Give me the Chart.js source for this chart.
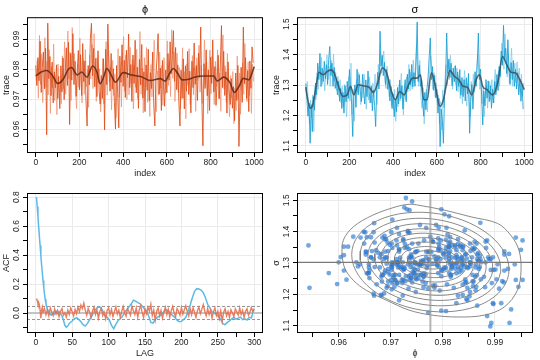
<!DOCTYPE html>
<html>
<head>
<meta charset="utf-8">
<script src="https://cdn.jsdelivr.net/npm/chart.js@4.4.1/dist/chart.umd.min.js"></script>
<style>
  body { margin: 0; background: #fff; }
  #wrap { position: relative; width: 540px; height: 360px; }
  canvas { position: absolute; }
</style>
</head>
<body>
<div id="wrap">
  <canvas id="phi-trace" width="270" height="180" style="left:0;top:0"></canvas>
  <canvas id="sigma-trace" width="270" height="180" style="left:270px;top:0"></canvas>
  <canvas id="acf-chart" width="270" height="180" style="left:0;top:180px"></canvas>
  <canvas id="pair-chart" width="270" height="180" style="left:270px;top:180px"></canvas>
</div>
<script>
// draws of phi, two chains (every 5th iteration, chain B offset by 2)
const phiChainA = [
  0.9812,0.9745,0.9838,0.9761,0.9893,0.9722,0.9806,0.9857,0.9734,0.9869,
  0.9581,0.9953,0.9768,0.9842,0.9711,0.9823,0.9687,0.9791,0.9738,0.9814,
  0.9702,0.9776,0.9668,0.9811,0.9724,0.9837,0.9698,0.9792,0.9871,0.9745,
  0.9889,0.9615,0.9852,0.9763,0.9918,0.9748,0.9826,0.9709,0.9795,0.9862,
  0.9731,0.9848,0.9712,0.9885,0.9758,0.9827,0.9694,0.9610,0.9812,0.9747,
  0.9901,0.9953,0.9778,0.9869,0.9741,0.9836,0.9708,0.9861,0.9725,0.9683,
  0.9779,0.9702,0.9834,0.9597,0.9866,0.9748,0.9950,0.9817,0.9726,0.9852,
  0.9733,0.9801,0.9689,0.9600,0.9812,0.9718,0.9604,0.9843,0.9756,0.9881,
  0.9742,0.9829,0.9705,0.9863,0.9771,0.9917,0.9738,0.9815,0.9692,0.9847,
  0.9752,0.9896,0.9721,0.9806,0.9669,0.9833,0.9747,0.9882,0.9703,0.9791,
  0.9658,0.9814,0.9729,0.9866,0.9694,0.9788,0.9735,0.9857,0.9681,0.9610,
  0.9772,0.9841,0.9918,0.9716,0.9803,0.9662,0.9829,0.9744,0.9676,0.9797,
  0.9721,0.9852,0.9763,0.9891,0.9784,0.9845,0.9928,0.9759,0.9872,0.9731,
  0.9814,0.9688,0.9610,0.9796,0.9702,0.9834,0.9667,0.9811,0.9726,0.9859,
  0.9715,0.9793,0.9654,0.9826,0.9738,0.9887,0.9749,0.9812,0.9695,0.9853,
  0.9772,0.9940,0.9707,0.9544,0.9818,0.9735,0.9864,0.9711,0.9797,0.9662,
  0.9839,0.9752,0.9897,0.9724,0.9808,0.9679,0.9763,0.9846,0.9701,0.9817,
  0.9945,0.9738,0.9859,0.9712,0.9791,0.9653,0.9824,0.9727,0.9682,0.9768,
  0.9669,0.9741,0.9628,0.9787,0.9695,0.9812,0.9542,0.9723,0.9806,0.9689,
  0.9940,0.9751,0.9838,0.9702,0.9795,0.9658,0.9827,0.9736,0.9874,0.9821
];
const phiChainB = [
  0.9764,0.9829,0.9703,0.9912,0.9748,0.9851,0.9688,0.9797,0.9905,0.9739,
  0.9826,0.9714,0.9865,0.9652,0.9809,0.9737,0.9883,0.9695,0.9772,0.9648,
  0.9817,0.9702,0.9758,0.9684,0.9844,0.9733,0.9891,0.9716,0.9802,0.9927,
  0.9767,0.9856,0.9695,0.9938,0.9781,0.9852,0.9729,0.9668,0.9816,0.9739,
  0.9903,0.9764,0.9687,0.9829,0.9716,0.9865,0.9741,0.9798,0.9672,0.9847,
  0.9767,0.9882,0.9735,0.9918,0.9806,0.9692,0.9839,0.9753,0.9801,0.9657,
  0.9728,0.9836,0.9683,0.9774,0.9892,0.9713,0.9861,0.9758,0.9807,0.9664,
  0.9829,0.9712,0.9784,0.9637,0.9753,0.9868,0.9706,0.9791,0.9673,0.9836,
  0.9908,0.9726,0.9847,0.9698,0.9785,0.9714,0.9873,0.9751,0.9832,0.9667,
  0.9814,0.9739,0.9866,0.9702,0.9781,0.9925,0.9716,0.9803,0.9654,0.9838,
  0.9741,0.9872,0.9689,0.9763,0.9642,0.9815,0.9707,0.9789,0.9896,0.9724,
  0.9658,0.9794,0.9713,0.9857,0.9736,0.9812,0.9679,0.9838,0.9716,0.9773,
  0.9894,0.9745,0.9826,0.9708,0.9931,0.9769,0.9858,0.9692,0.9781,0.9853,
  0.9724,0.9806,0.9667,0.9748,0.9871,0.9703,0.9792,0.9634,0.9817,0.9746,
  0.9868,0.9682,0.9773,0.9845,0.9714,0.9806,0.9659,0.9838,0.9762,0.9879,
  0.9723,0.9812,0.9685,0.9768,0.9897,0.9746,0.9824,0.9651,0.9792,0.9863,
  0.9718,0.9843,0.9756,0.9682,0.9826,0.9741,0.9864,0.9702,0.9787,0.9659,
  0.9836,0.9914,0.9733,0.9811,0.9689,0.9852,0.9727,0.9641,0.9778,0.9703,
  0.9792,0.9618,0.9736,0.9662,0.9843,0.9701,0.9787,0.9649,0.9756,0.9821,
  0.9716,0.9885,0.9763,0.9691,0.9824,0.9712,0.9797,0.9652,0.9816,0.9758
];
const sigmaChainA = [
  1.305,1.262,1.198,1.241,1.109,1.236,1.147,1.262,1.218,1.307,
  1.268,1.372,1.318,1.404,1.295,1.356,1.312,1.378,1.321,1.367,
  1.302,1.384,1.427,1.331,1.372,1.296,1.358,1.289,1.323,1.268,
  1.312,1.247,1.289,1.223,1.276,1.208,1.298,1.245,1.312,1.256,
  1.351,1.284,1.236,1.131,1.262,1.301,1.227,1.352,1.268,1.334,
  1.279,1.246,1.335,1.281,1.238,1.317,1.262,1.346,1.278,1.241,
  1.298,1.216,1.284,1.233,1.164,1.298,1.342,1.287,1.477,1.362,
  1.398,1.331,1.375,1.302,1.352,1.286,1.319,1.248,1.296,1.223,
  1.271,1.196,1.254,1.213,1.292,1.238,1.317,1.256,1.298,1.221,
  1.279,1.318,1.245,1.336,1.287,1.352,1.301,1.368,1.294,1.341,
  1.296,1.382,1.507,1.312,1.365,1.296,1.317,1.241,1.198,1.276,
  1.219,1.288,1.327,1.392,1.455,1.318,1.361,1.283,1.332,1.258,
  1.286,1.208,1.256,1.098,1.221,1.185,1.109,1.264,1.312,1.471,
  1.338,1.386,1.325,1.372,1.298,1.356,1.311,1.364,1.282,1.343,
  1.296,1.351,1.267,1.325,1.262,1.318,1.248,1.324,1.271,1.338,
  1.142,1.246,1.302,1.221,1.289,1.344,1.296,1.372,1.471,1.318,
  1.352,1.262,1.169,1.281,1.232,1.318,1.257,1.314,1.246,1.298,
  1.224,1.287,1.241,1.312,1.268,1.335,1.282,1.361,1.328,1.412,
  1.365,1.496,1.384,1.421,1.338,1.449,1.356,1.302,1.374,1.318,
  1.381,1.296,1.352,1.287,1.341,1.268,1.319,1.247,1.302,1.221
];
const sigmaChainB = [
  1.268,1.312,1.236,1.172,1.251,1.194,1.268,1.148,1.296,1.252,
  1.341,1.286,1.362,1.327,1.391,1.302,1.348,1.281,1.336,1.399,
  1.318,1.362,1.296,1.381,1.328,1.402,1.312,1.344,1.281,1.329,
  1.263,1.318,1.241,1.296,1.228,1.302,1.258,1.196,1.281,1.327,
  1.248,1.372,1.203,1.286,1.181,1.261,1.318,1.276,1.341,1.287,
  1.236,1.302,1.258,1.337,1.284,1.221,1.296,1.251,1.327,1.268,
  1.242,1.307,1.262,1.336,1.278,1.236,1.368,1.301,1.412,1.338,
  1.376,1.412,1.321,1.289,1.362,1.307,1.262,1.318,1.232,1.276,
  1.218,1.286,1.181,1.263,1.229,1.302,1.248,1.338,1.271,1.202,
  1.296,1.252,1.327,1.278,1.368,1.281,1.342,1.286,1.382,1.307,
  1.362,1.428,1.336,1.296,1.381,1.262,1.224,1.292,1.172,1.246,
  1.286,1.212,1.302,1.347,1.396,1.352,1.286,1.341,1.262,1.307,
  1.236,1.268,1.172,1.246,1.152,1.284,1.226,1.318,1.367,1.298,
  1.376,1.318,1.398,1.336,1.287,1.348,1.362,1.302,1.356,1.278,
  1.332,1.256,1.312,1.238,1.302,1.348,1.276,1.231,1.307,1.256,
  1.196,1.312,1.262,1.336,1.278,1.302,1.352,1.398,1.346,1.286,
  1.317,1.238,1.292,1.196,1.267,1.298,1.224,1.286,1.312,1.252,
  1.318,1.242,1.296,1.351,1.276,1.302,1.348,1.296,1.372,1.438,
  1.412,1.352,1.468,1.382,1.327,1.398,1.306,1.362,1.421,1.296,
  1.336,1.372,1.308,1.376,1.316,1.356,1.278,1.336,1.262,1.307
];
const phiIndexA = phiChainA.map((v, i) => i * 5);
const phiIndexB = phiChainB.map((v, i) => i * 5 + 2);

// running smooth drawn over each trace
const phiSmoothIdx = [0,25,50,75,100,125,150,165,175,190,210,235,260,280,295,310,325,345,365,400,
  440,480,525,570,592,610,630,650,670,700,725,770,815,830,860,890,908,930,950,975,1000];
const phiSmooth = [0.9777,0.9790,0.9795,0.9780,0.9752,0.9765,0.9800,0.9805,0.9795,0.9780,
  0.9790,0.9773,0.9810,0.9790,0.9751,0.9772,0.9802,0.9780,0.9756,0.9788,
  0.9780,0.9775,0.9762,0.9768,0.9760,0.9782,0.9802,0.9785,0.9764,0.9766,
  0.9773,0.9777,0.9777,0.9760,0.9773,0.9753,0.9722,0.9742,0.9769,0.9764,0.9808];
const sigmaSmoothIdx = [0,10,20,30,45,60,80,100,115,130,150,170,190,205,220,240,260,290,310,330,
  350,370,390,410,430,450,470,490,510,525,540,555,575,590,615,630,645,660,680,700,
  720,740,760,780,795,810,830,855,880,900,920,940,960,980,1000];
const sigmaSmooth = [1.293,1.250,1.224,1.230,1.285,1.342,1.334,1.345,1.350,1.340,
  1.296,1.263,1.268,1.296,1.268,1.301,1.298,1.293,1.276,1.309,
  1.356,1.340,1.285,1.252,1.279,1.268,1.301,1.323,1.323,1.334,
  1.252,1.252,1.340,1.307,1.230,1.252,1.307,1.348,1.329,1.318,
  1.296,1.293,1.268,1.318,1.334,1.296,1.285,1.268,1.312,1.394,
  1.367,1.342,1.340,1.318,1.285];

// autocorrelation
const sigmaAcfLag = [1,2,3,4,5,6,7,8,9,10,11,12,13,14,15,16,18,20,22,24,
  26,28,30,32,34,36,38,40,42,44,46,48,50,53,56,59,62,65,68,71,
  74,77,80,83,86,89,92,95,98,101,104,107,110,113,116,119,122,125,128,131,
  134,137,140,143,146,149,152,155,158,161,164,167,170,173,176,179,182,185,188,191,
  194,197,200,203,206,209,212,215,218,221,224,227,230,233,236,239,242,245,248,251,
  254,257,260,263,266,269,272,275,278,281,284,287,290,293,296,299,300];
const sigmaAcf = [0.800,0.735,0.668,0.596,0.530,0.465,0.398,0.335,0.278,0.225,
  0.176,0.132,0.095,0.064,0.042,0.025,0.008,-0.010,-0.015,0.005,
  -0.008,0.012,-0.004,0.010,-0.006,-0.020,-0.048,-0.085,-0.098,-0.090,
  -0.072,-0.064,-0.055,-0.040,-0.032,-0.044,-0.060,-0.080,-0.090,-0.072,
  -0.045,-0.020,0.008,0.030,0.042,0.038,0.015,-0.018,-0.030,-0.048,
  -0.085,-0.108,-0.078,-0.052,-0.040,-0.025,0.005,0.020,0.042,0.062,
  0.088,0.082,0.072,0.065,0.048,0.030,0.015,-0.020,-0.065,-0.070,
  -0.045,-0.030,-0.022,-0.008,0.010,0.022,0.015,-0.005,-0.018,-0.030,
  -0.050,-0.060,-0.058,-0.045,-0.030,0.010,0.055,0.105,0.150,0.168,
  0.165,0.158,0.140,0.105,0.060,0.035,0.010,0.000,-0.010,-0.025,
  -0.045,-0.075,-0.080,-0.065,-0.055,-0.040,-0.030,-0.042,-0.035,-0.028,
  -0.045,-0.040,-0.048,-0.030,-0.035,0.020,0.030];
const phiAcfLag = [1,2,3,4,5,6,7,8,9,10,
  12,14,16,18,20,22,24,26,28,30,32,34,36,38,40,42,44,46,48,50,
  52,54,56,58,60,62,64,66,68,70,72,74,76,78,80,82,84,86,88,90,
  92,94,96,98,100,102,104,106,108,110,112,114,116,118,120,122,124,126,128,130,
  132,134,136,138,140,142,144,146,148,150,152,154,156,158,160,162,164,166,168,170,
  172,174,176,178,180,182,184,186,188,190,192,194,196,198,200,202,204,206,208,210,
  212,214,216,218,220,222,224,226,228,230,232,234,236,238,240,242,244,246,248,250,
  252,254,256,258,260,262,264,266,268,270,272,274,276,278,280,282,284,286,288,290,
  292,294,296,298,300];
const phiAcf = [0.100,0.088,0.065,0.072,0.058,0.020,-0.035,0.015,0.040,0.005,
  0.030,-0.012,0.022,-0.020,0.035,0.005,-0.018,0.028,-0.006,0.018,
  -0.025,0.010,0.030,-0.015,0.002,-0.028,0.020,-0.010,0.035,0.008,
  -0.020,0.025,-0.005,0.040,0.010,0.055,0.030,0.068,0.020,-0.015,
  0.030,0.005,-0.030,0.015,0.040,-0.010,0.022,-0.035,0.010,0.032,
  -0.018,0.005,-0.040,0.018,0.035,-0.012,0.025,-0.025,0.008,0.042,
  -0.008,0.020,-0.030,0.012,0.045,0.000,-0.022,0.030,0.010,-0.015,
  0.048,0.015,-0.010,0.035,-0.028,0.020,0.052,0.005,-0.030,0.025,
  -0.005,0.040,0.012,0.060,-0.018,0.020,-0.050,0.010,0.035,-0.020,
  0.018,-0.035,0.008,0.040,-0.010,0.025,-0.028,0.015,0.045,0.000,
  -0.025,0.030,0.012,-0.015,0.038,-0.008,0.022,0.050,0.010,-0.020,
  0.028,-0.012,0.035,0.005,-0.030,0.018,0.040,-0.005,0.025,0.058,
  0.015,-0.020,0.030,-0.010,0.020,-0.035,0.008,0.035,-0.018,0.012,
  -0.040,0.015,-0.055,0.005,0.030,-0.020,0.010,-0.030,0.022,0.000,
  -0.025,0.028,0.008,-0.015,0.035,-0.010,0.018,-0.030,0.012,0.030,
  -0.015,0.005,0.038,0.010,0.025];
const acfBand = 0.045;

// joint density contours (outer one traced, inner ones as ellipse radii)
const contourOuterPhi = [0.9606,0.9609,0.9628,0.9665,0.9710,0.9735,0.9754,0.9804,0.9854,0.9905,0.9930,0.9946,
  0.9950,0.9943,0.9918,0.9880,0.9829,0.9779,0.9735,0.9691,0.9653,0.9628,0.9612];
const contourOuterSigma = [1.325,1.373,1.415,1.452,1.479,1.487,1.484,1.468,1.447,1.426,1.389,1.341,
  1.277,1.213,1.160,1.134,1.128,1.134,1.150,1.182,1.213,1.245,1.282];
const contourRx = [0.0151,0.0135,0.0120,0.0107,0.0095,0.0082,0.0069,0.0057,0.0044,0.0032,0.0019];
const contourRy = [0.157,0.138,0.121,0.105,0.091,0.077,0.063,0.049,0.036,0.022,0.011];
const contourCenter = [0.9776, 1.303];
const contourTilt = 0.15;
const phiMean = 0.9776;
const sigmaMean = 1.302;

const phiRange = [0.952, 0.9973];
const sigmaRange = [1.077, 1.523];
const indexRange = [-40, 1040];
const lagRange = [-12, 312];
const acfRange = [-0.138, 0.828];

Chart.defaults.font.family = '"Liberation Sans", "DejaVu Sans", sans-serif';
Chart.defaults.color = '#222';

const framePlugin = {
    id: 'frame',
    afterDraw(chart) {
        const a = chart.chartArea;
        const ctx = chart.ctx;
        ctx.save();
        ctx.strokeStyle = '#000';
        ctx.lineWidth = 1;
        ctx.strokeRect(a.left + 0.5, a.top + 0.5, a.right - a.left - 1, a.bottom - a.top - 1);
        ctx.restore();
    }
};

function isMajor(value, step) {
    return Math.round(value / step) % 2 === 0;
}

function xAxis(range, step, digits, title) {
    return {
        type: 'linear', min: range[0], max: range[1],
        title: { display: true, text: title, font: { size: 9 }, padding: { top: 0, bottom: 1 } },
        ticks: {
            stepSize: step, autoSkip: false, includeBounds: false, maxTicksLimit: 100,
            maxRotation: 0, font: { size: 8.5 }, padding: 1,
            callback: v => isMajor(v, step) ? (Math.round(v / step) * step).toFixed(digits) : ''
        },
        grid: { color: c => isMajor(c.tick.value, step) ? '#ebebeb' : 'rgba(0,0,0,0)', tickColor: '#000', tickLength: 4 },
        border: { display: false },
        afterFit: s => { s.height = 27; }
    };
}

function yAxis(range, step, digits, title, pad) {
    return {
        type: 'linear', min: range[0], max: range[1],
        title: { display: true, text: title, font: { size: 9 }, padding: { top: 1.5, bottom: 0 } },
        ticks: {
            stepSize: step, autoSkip: false, includeBounds: false, maxTicksLimit: 100,
            minRotation: 90, maxRotation: 90, crossAlign: 'center', font: { size: 8.5 }, padding: pad,
            callback: v => isMajor(v, step) ? (Math.round(v / step) * step).toFixed(digits) : ''
        },
        grid: { color: c => isMajor(c.tick.value, step) ? '#ebebeb' : 'rgba(0,0,0,0)', tickColor: '#000', tickLength: 4 },
        border: { display: false },
        afterFit: s => { s.width = 27; }
    };
}

function points(xs, ys) {
    return ys.map((v, i) => ({ x: xs[i], y: v }));
}

function lineSet(data, color, width, extra) {
    return Object.assign({ data: data, showLine: true, borderColor: color, borderWidth: width, pointRadius: 0, tension: 0 }, extra || {});
}

function baseOptions(top, titleText) {
    return {
        responsive: false, animation: false, devicePixelRatio: 1, events: [],
        layout: { padding: { top: top, right: 7, left: 0, bottom: 0 } },
        plugins: {
            legend: { display: false },
            tooltip: { enabled: false },
            title: {
                display: !!titleText, text: titleText, fullSize: false, color: '#000',
                font: { size: 11, weight: 'normal' }, padding: { top: 3, bottom: 1 }
            }
        }
    };
}

function renderTraceChart(id, title, chainA, chainB, smoothIdx, smooth, colors, range, step, pad) {
    const options = baseOptions(0, title);
    options.scales = {
        x: xAxis(indexRange, 100, 0, 'index'),
        y: yAxis(range, step, 2 - (step < 0.01 ? 0 : 1), 'trace', pad)
    };
    return new Chart(document.getElementById(id), {
        type: 'scatter',
        data: {
            datasets: [
                lineSet(points(smoothIdx, smooth), colors.smooth, 1.6, { cubicInterpolationMode: 'monotone' }),
                lineSet(points(phiIndexA, chainA), colors.dark, 0.95),
                lineSet(points(phiIndexB, chainB), colors.light, 0.9)
            ]
        },
        options: options,
        plugins: [framePlugin]
    });
}

function renderAcfChart() {
    const options = baseOptions(13, '');
    options.scales = {
        x: xAxis(lagRange, 25, 0, 'LAG'),
        y: yAxis(acfRange, 0.1, 1, 'ACF', 0.8)
    };
    return new Chart(document.getElementById('acf-chart'), {
        type: 'scatter',
        data: {
            datasets: [
                lineSet(points(phiAcfLag, phiAcf), 'rgba(229,112,80,0.9)', 1.4),
                lineSet(points(sigmaAcfLag, sigmaAcf), 'rgb(92,186,230)', 1.5),
                lineSet(points(lagRange, [acfBand, acfBand]), '#777', 0.8, { borderDash: [3, 2] }),
                lineSet(points(lagRange, [-acfBand, -acfBand]), '#777', 0.8, { borderDash: [3, 2] }),
                lineSet(points(lagRange, [0, 0]), '#c4c4c4', 2)
            ]
        },
        options: options,
        plugins: [framePlugin]
    });
}

function ellipse(rx, ry) {
    const pts = [];
    for (let k = 0; k <= 60; k++) {
        const t = k / 60 * 2 * Math.PI;
        pts.push({
            x: contourCenter[0] + rx * Math.cos(t),
            y: contourCenter[1] + ry * Math.sin(t) - contourTilt * ry * Math.cos(t)
        });
    }
    return pts;
}

function renderPairChart() {
    const options = baseOptions(13, '');
    options.scales = {
        x: xAxis(phiRange, 0.005, 2, 'ϕ'),
        y: yAxis(sigmaRange, 0.05, 1, 'σ', 0.8)
    };
    const outer = points(contourOuterPhi, contourOuterSigma);
    outer.push(outer[0]);
    const pairs = points(phiChainA, sigmaChainA).concat(points(phiChainB, sigmaChainB));
    const datasets = [
        lineSet(points([phiMean, phiMean], sigmaRange), 'rgba(150,150,150,0.7)', 2),
        lineSet(points(phiRange, [sigmaMean, sigmaMean]), '#7a7a7a', 1.2),
        lineSet(outer, '#7d7d7d', 0.9, { tension: 0.35 })
    ];
    contourRx.forEach((rx, i) => {
        datasets.push(lineSet(ellipse(rx, contourRy[i]), '#7d7d7d', 0.9));
    });
    datasets.push({ data: pairs, backgroundColor: 'rgba(40,120,210,0.65)', borderWidth: 0, pointRadius: 2.4 });
    return new Chart(document.getElementById('pair-chart'), {
        type: 'scatter',
        data: { datasets: datasets },
        options: options,
        plugins: [framePlugin]
    });
}

renderTraceChart('phi-trace', 'ϕ', phiChainA, phiChainB, phiSmoothIdx, phiSmooth,
    { dark: 'rgba(222,78,24,0.9)', light: 'rgba(238,140,105,0.75)', smooth: 'rgba(95,40,20,0.85)' },
    phiRange, 0.005, -1.6);
renderTraceChart('sigma-trace', 'σ', sigmaChainA, sigmaChainB, sigmaSmoothIdx, sigmaSmooth,
    { dark: 'rgba(24,158,210,0.9)', light: 'rgba(120,200,235,0.8)', smooth: 'rgba(60,80,92,0.85)' },
    sigmaRange, 0.05, 0.8);
renderAcfChart();
renderPairChart();
</script>
</body>
</html>
